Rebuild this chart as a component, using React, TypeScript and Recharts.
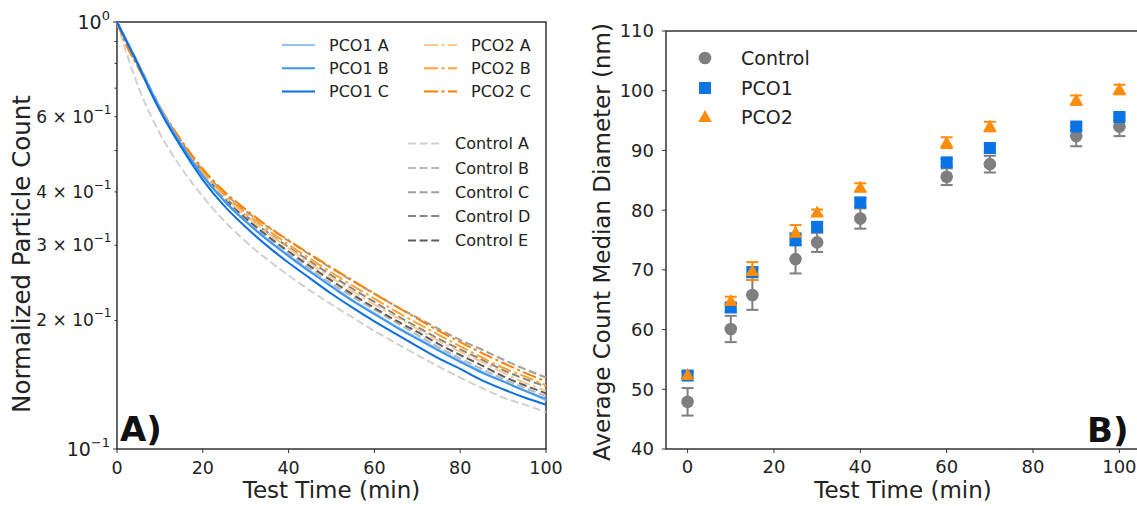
import React from 'react';
import {
  LineChart, Line, ScatterChart, Scatter, ErrorBar, XAxis, YAxis, ReferenceArea,
} from 'recharts';

const FONT = '"DejaVu Sans", Verdana, sans-serif';
const AXIS = '#333333';

// ---- panel A: normalized particle count decay ----
const TIMES = [0, 2, 4, 6, 8, 10, 15, 20, 25, 30, 35, 40, 45, 50, 55, 60, 65, 70, 75, 80, 85, 90, 95, 100];

const PCO1_A = [1.0, 0.915, 0.835, 0.76, 0.69, 0.63, 0.518, 0.438, 0.382, 0.342, 0.31, 0.284, 0.261, 0.241, 0.223, 0.208, 0.194, 0.182, 0.171, 0.161, 0.152, 0.144, 0.137, 0.130];
const PCO1_B = [1.0, 0.91, 0.83, 0.756, 0.686, 0.626, 0.516, 0.436, 0.381, 0.341, 0.309, 0.283, 0.260, 0.240, 0.222, 0.207, 0.193, 0.181, 0.170, 0.160, 0.151, 0.144, 0.137, 0.131];
const PCO1_C = [1.0, 0.91, 0.83, 0.752, 0.68, 0.62, 0.508, 0.427, 0.371, 0.331, 0.299, 0.273, 0.251, 0.231, 0.214, 0.199, 0.186, 0.174, 0.163, 0.154, 0.145, 0.138, 0.132, 0.127];
const PCO2_A = [1.0, 0.9, 0.82, 0.75, 0.685, 0.628, 0.52, 0.443, 0.39, 0.352, 0.321, 0.295, 0.272, 0.252, 0.234, 0.218, 0.204, 0.191, 0.179, 0.169, 0.160, 0.151, 0.143, 0.137];
const PCO2_B = [1.0, 0.9, 0.82, 0.75, 0.686, 0.63, 0.523, 0.447, 0.395, 0.357, 0.327, 0.301, 0.279, 0.259, 0.241, 0.225, 0.210, 0.197, 0.185, 0.174, 0.164, 0.155, 0.148, 0.141];
const PCO2_C = [1.0, 0.89, 0.815, 0.748, 0.686, 0.632, 0.528, 0.453, 0.401, 0.364, 0.333, 0.308, 0.286, 0.266, 0.248, 0.231, 0.216, 0.202, 0.189, 0.178, 0.168, 0.159, 0.151, 0.144];
const CONTROL_A = [1.0, 0.86, 0.75, 0.665, 0.6, 0.548, 0.455, 0.39, 0.342, 0.306, 0.278, 0.255, 0.235, 0.218, 0.203, 0.189, 0.177, 0.166, 0.156, 0.147, 0.139, 0.132, 0.127, 0.122];
const CONTROL_B = [1.0, 0.9, 0.82, 0.748, 0.68, 0.622, 0.514, 0.436, 0.382, 0.343, 0.312, 0.286, 0.264, 0.244, 0.227, 0.212, 0.198, 0.185, 0.173, 0.163, 0.154, 0.146, 0.139, 0.133];
const CONTROL_C = [1.0, 0.91, 0.83, 0.757, 0.69, 0.632, 0.525, 0.45, 0.398, 0.361, 0.332, 0.307, 0.285, 0.265, 0.247, 0.231, 0.216, 0.203, 0.191, 0.180, 0.171, 0.162, 0.154, 0.147];
const CONTROL_D = [1.0, 0.91, 0.83, 0.756, 0.688, 0.629, 0.52, 0.443, 0.39, 0.352, 0.322, 0.297, 0.275, 0.255, 0.237, 0.221, 0.206, 0.193, 0.181, 0.171, 0.162, 0.153, 0.146, 0.140];
const CONTROL_E = [1.0, 0.915, 0.835, 0.76, 0.69, 0.63, 0.519, 0.44, 0.386, 0.347, 0.316, 0.290, 0.268, 0.248, 0.230, 0.214, 0.200, 0.188, 0.176, 0.166, 0.157, 0.148, 0.141, 0.135];

const LOG_TICKS = [0.1, 0.2, 0.3, 0.4, 0.5, 0.6, 0.7, 0.8, 0.9, 1];
const TIME_TICKS = [0, 20, 40, 60, 80, 100];

// draw order: controls, then PCO2, then PCO1 on top
const CURVES = [
  { key: 'ctlA', name: 'Control A', values: CONTROL_A, color: '#d0d0d0', dash: '8 3.6' },
  { key: 'ctlB', name: 'Control B', values: CONTROL_B, color: '#b8b8b8', dash: '8 3.6' },
  { key: 'ctlC', name: 'Control C', values: CONTROL_C, color: '#a0a0a0', dash: '8 3.6' },
  { key: 'ctlD', name: 'Control D', values: CONTROL_D, color: '#878787', dash: '8 3.6' },
  { key: 'ctlE', name: 'Control E', values: CONTROL_E, color: '#5e5e5e', dash: '8 3.6' },
  { key: 'p2A', name: 'PCO2 A', values: PCO2_A, color: '#fdc78d', dash: '14 3.5 3 3.5' },
  { key: 'p2B', name: 'PCO2 B', values: PCO2_B, color: '#ffa42e', dash: '14 3.5 3 3.5' },
  { key: 'p2C', name: 'PCO2 C', values: PCO2_C, color: '#ff8000', dash: '14 3.5 3 3.5' },
  { key: 'p1A', name: 'PCO1 A', values: PCO1_A, color: '#93c3f6', dash: undefined },
  { key: 'p1B', name: 'PCO1 B', values: PCO1_B, color: '#3d97f2', dash: undefined },
  { key: 'p1C', name: 'PCO1 C', values: PCO1_C, color: '#0b6fe0', dash: undefined },
];

const decayRows = TIMES.map((t, i) => {
  const row: Record<string, number> = { t };
  CURVES.forEach((c) => { row[c.key] = c.values[i]; });
  return row;
});

// ---- panel B: average count median diameter ----
const SIZE_TIMES = [0, 10, 15, 25, 30, 40, 60, 70, 90, 100];
const CONTROL_DIAM = [47.9, 60.1, 65.8, 71.8, 74.6, 78.6, 85.6, 87.7, 92.4, 94.0];
const CONTROL_ERR = [2.3, 2.2, 2.5, 2.4, 1.6, 1.7, 1.4, 1.4, 1.7, 1.6];
const PCO1_DIAM = [52.3, 63.7, 69.6, 75.1, 77.2, 81.3, 88.0, 90.4, 94.0, 95.6];
const PCO1_ERR = [0.6, 0.7, 0.8, 1.0, 0.6, 0.7, 0.6, 0.6, 0.6, 0.5];
const PCO2_DIAM = [52.4, 64.8, 69.8, 76.2, 79.6, 83.8, 91.3, 94.0, 98.4, 100.2];
const PCO2_ERR = [0.6, 0.7, 1.5, 1.3, 0.5, 0.7, 0.9, 0.8, 0.8, 0.8];
const DIAM_TICKS = [40, 50, 60, 70, 80, 90, 100, 110];

const GRAY = '#7f7f7f';
const BLUE = '#0b74e5';
const ORANGE = '#ff8c0a';

const toRows = (vals: number[], errs: number[]) =>
  SIZE_TIMES.map((t, i) => ({ t, d: vals[i], e: errs[i] }));

const controlRows = toRows(CONTROL_DIAM, CONTROL_ERR);
const pco1Rows = toRows(PCO1_DIAM, PCO1_ERR);
const pco2Rows = toRows(PCO2_DIAM, PCO2_ERR);

const LOG_LABELS: Record<string, [string, string]> = {
  '1': ['10', '0'],
  '0.6': ['6 × 10', '−1'],
  '0.4': ['4 × 10', '−1'],
  '0.3': ['3 × 10', '−1'],
  '0.2': ['2 × 10', '−1'],
  '0.1': ['10', '−1'],
};

const PLOT_LEFT = 117;

function LogTick(props: any) {
  const { y, payload } = props;
  const v = payload.value;
  const major = v === 0.1 || v === 1;
  const len = major ? 4 : 2.5;
  const lab = LOG_LABELS[String(v)];
  return (
    <g>
      <line x1={PLOT_LEFT - len} x2={PLOT_LEFT} y1={y} y2={y} stroke={AXIS} strokeWidth={1} />
      {lab && (
        <text
          x={PLOT_LEFT - len - 3}
          y={y}
          textAnchor="end"
          dominantBaseline="central"
          fontFamily={FONT}
          fontSize={major ? 19 : 17}
          fill="#222"
        >
          {lab[0]}
          <tspan dy={-7} fontSize={major ? 13 : 12}>{lab[1]}</tspan>
        </text>
      )}
    </g>
  );
}

const Circle = (p: any) => <circle cx={p.cx} cy={p.cy} r={6.3} fill={GRAY} />;
const Square = (p: any) => <rect x={p.cx - 6} y={p.cy - 6} width={12} height={12} fill={BLUE} />;
const Triangle = (p: any) => (
  <polygon points={`${p.cx},${p.cy - 7} ${p.cx + 6.8},${p.cy + 5} ${p.cx - 6.8},${p.cy + 5}`} fill={ORANGE} />
);

function LegendLine({ x, y, color, dash, label }: any) {
  return (
    <g>
      <line x1={x} x2={x + 33} y1={y} y2={y} stroke={color} strokeWidth={2} strokeDasharray={dash} />
      <text x={x + 47} y={y} dominantBaseline="central" fontFamily={FONT} fontSize={16} fill="#222">{label}</text>
    </g>
  );
}

export default function App() {
  const byKey = (k: string) => CURVES.find((c) => c.key === k)!;
  const pco1Legend = ['p1A', 'p1B', 'p1C'].map(byKey);
  const pco2Legend = ['p2A', 'p2B', 'p2C'].map(byKey);
  const ctlLegend = ['ctlA', 'ctlB', 'ctlC', 'ctlD', 'ctlE'].map(byKey);
  const ctlRowsY = [143.5, 168, 192.3, 216, 240.5];

  return (
    <div style={{ position: 'absolute', left: 0, top: 0, width: 1137, height: 506, overflow: 'hidden', background: '#fff' }}>
      {/* Panel A */}
      <div style={{ position: 'absolute', left: 0, top: 0 }}>
        <LineChart width={578} height={506} data={decayRows} margin={{ top: 22, right: 32, bottom: 0, left: 0 }}>
          <XAxis
            dataKey="t"
            type="number"
            domain={[0, 100]}
            ticks={TIME_TICKS}
            axisLine={false}
            tickSize={4}
            tickMargin={9}
            tickLine={{ stroke: AXIS }}
            tick={{ fill: '#222', fontSize: 17.5, fontFamily: FONT }}
            height={57}
            label={{
              content: () => (
                <text x={331.5} y={498} textAnchor="middle" fontFamily={FONT} fontSize={23} fill="#222">Test Time (min)</text>
              ),
            }}
          />
          <YAxis
            type="number"
            scale="log"
            domain={[0.1, 1]}
            allowDataOverflow
            ticks={LOG_TICKS}
            interval={0}
            axisLine={false}
            tickLine={false}
            tick={<LogTick />}
            width={117}
            label={{
              content: () => (
                <text x={30} y={254} transform="rotate(-90 30 254)" textAnchor="middle" fontFamily={FONT} fontSize={24.5} fill="#222">
                  Normalized Particle Count
                </text>
              ),
            }}
          />
          {CURVES.map((c) => (
            <Line
              key={c.key}
              dataKey={c.key}
              type="monotone"
              stroke={c.color}
              strokeWidth={2}
              strokeDasharray={c.dash}
              dot={false}
              isAnimationActive={false}
            />
          ))}
          <ReferenceArea x1={0} x2={100} y1={0.1} y2={1} fill="none" stroke={AXIS} strokeWidth={1.5} ifOverflow="visible" />
        </LineChart>
      </div>

      {/* Panel B */}
      <div style={{ position: 'absolute', left: 580, top: 0 }}>
        <ScatterChart width={561} height={506} margin={{ top: 31, right: 0, bottom: 0, left: 0 }}>
          <XAxis
            dataKey="t"
            type="number"
            domain={[-5, 105]}
            ticks={TIME_TICKS}
            axisLine={false}
            tickSize={4}
            tickMargin={7}
            tickLine={{ stroke: AXIS }}
            tick={{ fill: '#222', fontSize: 18, fontFamily: FONT }}
            height={57}
            label={{
              content: () => (
                <text x={323} y={498} textAnchor="middle" fontFamily={FONT} fontSize={23} fill="#222">Test Time (min)</text>
              ),
            }}
          />
          <YAxis
            dataKey="d"
            type="number"
            domain={[40, 110]}
            ticks={DIAM_TICKS}
            interval={0}
            axisLine={false}
            tickSize={4}
            tickMargin={8}
            tickLine={{ stroke: AXIS }}
            tick={{ fill: '#222', fontSize: 18, fontFamily: FONT }}
            width={86}
            label={{
              content: () => (
                <text x={30} y={242} transform="rotate(-90 30 242)" textAnchor="middle" fontFamily={FONT} fontSize={23} fill="#222">
                  Average Count Median Diameter (nm)
                </text>
              ),
            }}
          />
          <Scatter data={controlRows} shape={Circle} isAnimationActive={false}>
            <ErrorBar dataKey="e" direction="y" width={6} stroke={GRAY} strokeWidth={2} />
          </Scatter>
          <Scatter data={pco1Rows} shape={Square} isAnimationActive={false}>
            <ErrorBar dataKey="e" direction="y" width={6} stroke={BLUE} strokeWidth={2} />
          </Scatter>
          <Scatter data={pco2Rows} shape={Triangle} isAnimationActive={false}>
            <ErrorBar dataKey="e" direction="y" width={6} stroke={ORANGE} strokeWidth={2} />
          </Scatter>
          <ReferenceArea x1={-5} x2={105} y1={40} y2={110} fill="none" stroke={AXIS} strokeWidth={1.5} ifOverflow="visible" />
        </ScatterChart>
      </div>

      {/* legends and panel letters */}
      <svg width={1137} height={506} style={{ position: 'absolute', left: 0, top: 0, pointerEvents: 'none' }}>
        {pco1Legend.map((c, i) => (
          <LegendLine key={c.key} x={282} y={45 + i * 23.3} color={c.color} dash={c.dash} label={c.name} />
        ))}
        {pco2Legend.map((c, i) => (
          <LegendLine key={c.key} x={424} y={45 + i * 23.3} color={c.color} dash={c.dash} label={c.name} />
        ))}
        {ctlLegend.map((c, i) => (
          <LegendLine key={c.key} x={408} y={ctlRowsY[i]} color={c.color} dash={c.dash} label={c.name} />
        ))}
        <text x={120} y={441} fontFamily={FONT} fontSize={34} fontWeight="bold" fill="#111">A)</text>
        <text x={1087} y={442} fontFamily={FONT} fontSize={34} fontWeight="bold" fill="#111">B)</text>

        <circle cx={705} cy={58} r={6.3} fill={GRAY} />
        <rect x={699} y={82} width={12} height={12} fill={BLUE} />
        <polygon points={`705,110 711.8,122 698.2,122`} fill={ORANGE} />
        <text x={741} y={58} dominantBaseline="central" fontFamily={FONT} fontSize={19} fill="#222">Control</text>
        <text x={741} y={88} dominantBaseline="central" fontFamily={FONT} fontSize={19} fill="#222">PCO1</text>
        <text x={741} y={117} dominantBaseline="central" fontFamily={FONT} fontSize={19} fill="#222">PCO2</text>
      </svg>
    </div>
  );
}
